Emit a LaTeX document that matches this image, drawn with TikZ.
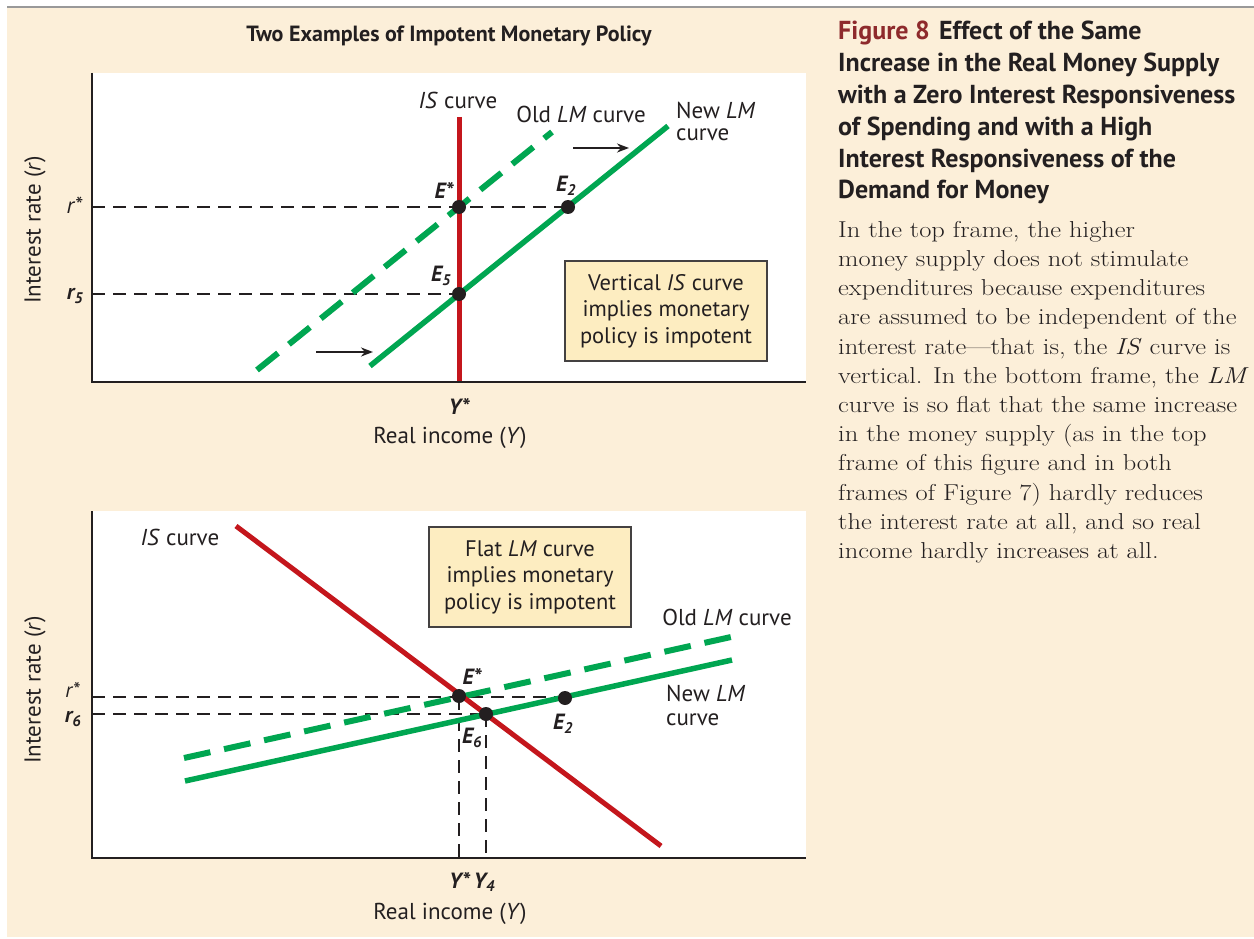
\documentclass[tikz,border=0pt]{standalone}
\usepackage{fontspec}
\usepackage{graphicx}
\newfontfamily\dsans{PT Sans}
\usetikzlibrary{arrows.meta}
\definecolor{cream}{HTML}{FCEFD9}
\definecolor{boxfill}{HTML}{FDEDC1}
\definecolor{lmgreen}{HTML}{00A651}
\definecolor{isred}{HTML}{C4161C}
\definecolor{figred}{HTML}{8E2A2C}
\definecolor{ink}{HTML}{231F20}
\newcommand{\bodyline}[1]{\scalebox{1.15}[1]{#1}}
\tikzset{
 lab/.style={font=\dsans\fontsize{23}{27}\selectfont, text=ink, inner sep=0pt},
 elab/.style={font=\dsans\bfseries\itshape\fontsize{22}{26}\selectfont, text=ink, inner sep=0pt},
 ptdot/.style={circle, fill=ink, inner sep=0pt, minimum size=14pt},
 guide/.style={draw=ink, line width=1.2pt, dash pattern=on 13pt off 8pt},
 oldlm/.style={draw=lmgreen, line width=6pt, dash pattern=on 27pt off 14pt},
 newlm/.style={draw=lmgreen, line width=5.5pt},
 iscurve/.style={draw=isred, line width=5pt},
 axisline/.style={draw=ink, line width=1.5pt},
 note/.style={draw=ink!85, line width=1.2pt, fill=boxfill, align=center, font=\dsans\fontsize{22.5}{26.5}\selectfont, text=ink, minimum width=202pt, minimum height=100pt, inner sep=0pt},
 shiftarrow/.style={draw=ink, line width=2pt, -{Stealth[length=12pt,width=9pt]}},
 head/.style={font=\dsans\bfseries\fontsize{26}{32}\selectfont, text=ink, anchor=base west, inner sep=0pt},
 body/.style={font=\fontsize{23}{29}\selectfont, text=ink, anchor=base west, inner sep=0pt},
}
\begin{document}
\begin{tikzpicture}[x=1pt,y=-1pt]
\useasboundingbox (0,0) rectangle (1254,939);
\fill[white] (0,0) rectangle (1254,939);
\fill[cream] (7,7) rectangle (1254,937);
\draw[black!40, line width=1.5pt] (7,7) -- (1254,7);

% ---------- top panel ----------
\fill[white] (92,73) rectangle (806,382);
\node[font=\dsans\bfseries\fontsize{22}{26}\selectfont, text=ink, inner sep=0pt] (title) at (449,36) {Two Examples of Impotent Monetary Policy};

\coordinate (tO) at (92,382);
\coordinate (tTop) at (92,73);
\coordinate (tEnd) at (806,382);
\coordinate (tIStop) at (459,117);
\coordinate (tISbot) at (459,382);
\coordinate (tOldA) at (257,370);
\coordinate (tOldB) at (552,132);
\coordinate (tNewA) at (370,366);
\coordinate (tNewB) at (668,126);
\coordinate (tRstar) at (92,207);
\coordinate (tRfive) at (92,294);

\draw[guide] (tRstar) -- (568,207);
\draw[guide] (tRfive) -- (459,294);
\draw[oldlm] (tOldA) -- (tOldB);
\draw[newlm] (tNewA) -- (tNewB);
\draw[iscurve] (tIStop) -- (tISbot);
\draw[axisline] (tTop) -- (tO) -- (tEnd);

\node[ptdot] (tEstar) at (459,207) {};
\node[ptdot] (tEtwo) at (568,207) {};
\node[ptdot] (tEfive) at (459,294) {};

\coordinate (ta1) at (573,148); \coordinate (ta2) at (629,148);
\coordinate (tb1) at (316,352); \coordinate (tb2) at (373,352);
\draw[shiftarrow] (ta1) -- (ta2);
\draw[shiftarrow] (tb1) -- (tb2);

\node[elab] at (444,190) {E*};
\node[elab] at (566,186) {E\textsubscript{2}};
\node[elab] at (441,276) {E\textsubscript{5}};
\node[lab] at (458,100) {\textit{IS} curve};
\node[lab] at (581,114) {Old \textit{LM} curve};
\node[lab, anchor=west] at (676,110) {New \textit{LM}};
\node[lab, anchor=west] at (676,135) {curve};
\node[note] (tnote) at (666,311) {Vertical \textit{IS} curve\\implies monetary\\policy is impotent};
\node[lab, rotate=90] at (35,230) {Interest rate (\textit{r})};
\node[lab] at (75,205) {\textit{r}*};
\node[elab] at (75,296) {r\textsubscript{5}};
\node[elab] at (459,406) {Y*};
\node[lab] at (450,438) {Real income (\textit{Y})};

% ---------- bottom panel ----------
\fill[white] (92,511) rectangle (806,858);
\coordinate (bO) at (92,858);
\coordinate (bTop) at (92,511);
\coordinate (bEnd) at (806,858);
\coordinate (bISA) at (236,526);
\coordinate (bISB) at (661,846);
\coordinate (bOldA) at (184,758);
\coordinate (bOldB) at (731,637);
\coordinate (bNewA) at (185,781);
\coordinate (bNewB) at (732,660);

\draw[guide] (92,697) -- (565,697);
\draw[guide] (92,714) -- (486,714);
\draw[guide] (459,697) -- (459,858);
\draw[guide] (486,714) -- (486,858);
\draw[oldlm] (bOldA) -- (bOldB);
\draw[newlm] (bNewA) -- (bNewB);
\draw[iscurve] (bISA) -- (bISB);
\draw[axisline] (bTop) -- (bO) -- (bEnd);

\node[ptdot] (bEstar) at (459,696) {};
\node[ptdot] (bEsix) at (486,714) {};
\node[ptdot] (bEtwo) at (565,698) {};

\node[elab] at (472,676) {E*};
\node[elab] at (472,738) {E\textsubscript{6}};
\node[elab] at (563,724) {E\textsubscript{2}};
\node[lab] at (180,537) {\textit{IS} curve};
\node[note] (bnote) at (530,577) {Flat \textit{LM} curve\\implies monetary\\policy is impotent};
\node[lab] at (727,617) {Old \textit{LM} curve};
\node[lab, anchor=west] at (666,693) {New \textit{LM}};
\node[lab, anchor=west] at (666,720) {curve};
\node[lab, rotate=90] at (35,690) {Interest rate (\textit{r})};
\node[lab, font=\dsans\fontsize{21}{24}\selectfont] at (73,690) {\textit{r}*};
\node[elab] at (73,719) {r\textsubscript{6}};
\node[elab] at (472,882) {Y*\,Y\textsubscript{4}};
\node[lab] at (450,914) {Real income (\textit{Y})};

% ---------- caption ----------
\node[head] at (838,40) {{\color{figred}Figure 8}\hspace{0.35em}Effect of the Same};
\node[head] at (838,72) {Increase in the Real Money Supply};
\node[head] at (838,104) {with a Zero Interest Responsiveness};
\node[head] at (838,136) {of Spending and with a High};
\node[head] at (838,168) {Interest Responsiveness of the};
\node[head] at (838,199) {Demand for Money};

\node[body] at (838,237) {\bodyline{In the top frame, the higher}};
\node[body] at (838,266) {\bodyline{money supply does not stimulate}};
\node[body] at (838,295) {\bodyline{expenditures because expenditures}};
\node[body] at (838,324) {\bodyline{are assumed to be independent of the}};
\node[body] at (838,354) {\bodyline{interest rate---that is, the \textit{IS} curve is}};
\node[body] at (838,383) {\bodyline{vertical. In the bottom frame, the \textit{LM}}};
\node[body] at (838,412) {\bodyline{curve is so flat that the same increase}};
\node[body] at (838,441) {\bodyline{in the money supply (as in the top}};
\node[body] at (838,470) {\bodyline{frame of this figure and in both}};
\node[body] at (838,500) {\bodyline{frames of Figure 7) hardly reduces}};
\node[body] at (838,529) {\bodyline{the interest rate at all, and so real}};
\node[body] at (838,558) {\bodyline{income hardly increases at all.}};
\end{tikzpicture}
\end{document}
